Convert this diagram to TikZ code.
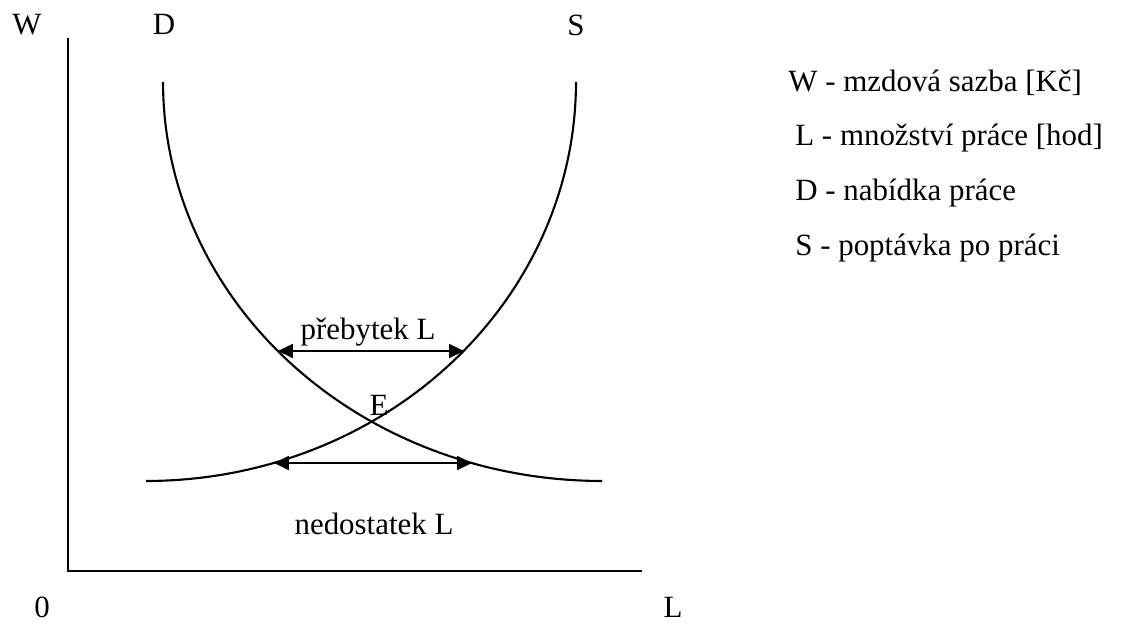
\documentclass[tikz,border=0pt]{standalone}
\usepackage{fontspec}
\setmainfont{Liberation Serif}
\usepackage{tikz}
\usetikzlibrary{arrows.meta,positioning}
\tikzset{
  osa/.style={line width=1.3pt},
  krivka/.style={line width=1.2pt},
  sipka/.style={{Triangle[length=8.5pt,width=8pt]}-{Triangle[length=8.5pt,width=8pt]},line width=0.8pt},
  popis/.style={anchor=base,inner sep=0pt,font=\fontsize{17.6}{21}\selectfont},
  legenda/.style={anchor=base west,inner sep=0pt,font=\fontsize{17.6}{21}\selectfont}
}
\begin{document}
\begin{tikzpicture}[x=0.02cm,y=-0.02cm]
\useasboundingbox (0,0) rectangle (1121,622);
% osy
\coordinate (o) at (68,571);
\coordinate (wtop) at (68,38);
\coordinate (lend) at (642,571);
\draw[osa] (wtop) -- (o) -- (lend);
\node[popis] (w) at (27,34) {W};
\node[popis] (nula) at (42,617) {0};
\node[popis] (l) at (673,617) {L};
% krivky D a S
\draw[krivka] plot[domain=180:90,samples=80,variable=\t] ({602+439*cos(\t)},{82+399*sin(\t)});
\draw[krivka] plot[domain=90:0,samples=80,variable=\t] ({146+430*cos(\t)},{82+399*sin(\t)});
\node[popis] (d) at (164,34) {D};
\node[popis] (s) at (576,35) {S};
\node[popis] (e) at (379,415) {E};
% prebytek a nedostatek
\coordinate (pD) at (278,351);
\coordinate (pS) at (464,351);
\coordinate (nS) at (274,463);
\coordinate (nD) at (472,463);
\draw[sipka] (pD) -- (pS);
\draw[sipka] (nS) -- (nD);
\node[popis] (preb) at (368,339) {přebytek L};
\node[popis] (nedo) at (374,534) {nedostatek L};
% legenda
\node[legenda] (lw) at (788,91) {W - mzdová sazba [Kč]};
\node[legenda] (ll) at (795,145) {L - množství práce [hod]};
\node[legenda] (ld) at (795,200) {D - nabídka práce};
\node[legenda] (ls) at (795,255) {S - poptávka po práci};
\end{tikzpicture}
\end{document}
